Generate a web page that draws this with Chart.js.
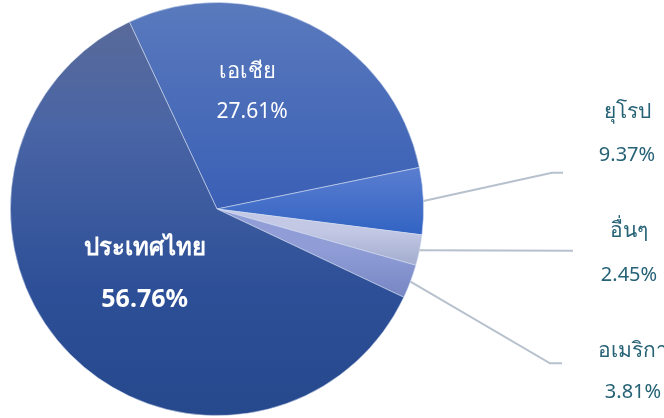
<!DOCTYPE html>
<html>
<head>
<meta charset="utf-8">
<script src="https://cdn.jsdelivr.net/npm/chart.js@4.4.0/dist/chart.umd.min.js"></script>
<style>
html,body{margin:0;padding:0;background:#fff;}
#wrap{width:664px;height:418px;position:relative;}
</style>
</head>
<body>
<div id="wrap"><canvas id="c" width="664" height="418"></canvas></div>
<script>
// Categories in drawing order (clockwise from the top boundary)
const categories = ['เอเชีย', 'ยุโรป', 'อื่นๆ', 'อเมริกา', 'ประเทศไทย'];
// Slice sizes as drawn in the picture (share of the circle, %)
const sliceValues = [28.75, 5.22, 2.39, 2.64, 61.0];
// Percentage labels as printed on the chart
const percentLabels = ['27.61%', '9.37%', '2.45%', '3.81%', '56.76%'];

const gradientStops = [
  [[0, '#5a7abd'], [0.5, '#3a5fb5'], [1, '#2d55ad']],
  [[0, '#6a8ad8'], [0.4, '#5a7ed0'], [0.57, '#3062c2'], [1, '#3062c2']],
  [[0, '#d0d5ec'], [0.55, '#c3c9e5'], [0.62, '#a9b1d3'], [1, '#a9b1d3']],
  [[0, '#9aa6dc'], [0.6, '#8f9cd6'], [0.72, '#7585c3'], [1, '#7585c3']],
  [[0, '#5b6b97'], [0.3, '#4a65a5'], [0.7, '#2d4f97'], [1, '#26488c']]
];

const FONT = '"Noto Sans", "Liberation Sans", sans-serif';
const TEAL = '#266276';

function makeBg(ctx) {
  const chart = ctx.chart;
  const area = chart.chartArea;
  if (!area) return '#3a5fb3';
  const g = chart.ctx.createLinearGradient(0, area.top, 0, area.bottom);
  gradientStops[ctx.dataIndex].forEach(s => g.addColorStop(s[0], s[1]));
  return g;
}

const labelPlugin = {
  id: 'labels',
  afterDatasetsDraw(chart) {
    const ctx = chart.ctx;
    const meta = chart.getDatasetMeta(0);
    const a0 = meta.data[0];
    const cx = a0.x, cy = a0.y, r = a0.outerRadius;
    ctx.save();
    ctx.textAlign = 'center';
    ctx.textBaseline = 'middle';

    // inside labels
    ctx.fillStyle = '#ffffff';
    ctx.font = '22px ' + FONT;
    ctx.fillText(categories[0], cx + 0.15 * r, cy - 0.665 * r);
    ctx.font = '21px ' + FONT;
    ctx.fillText(percentLabels[0], cx + 0.17 * r, cy - 0.47 * r);

    ctx.font = 'bold 24px ' + FONT;
    ctx.fillText(categories[4], cx - 0.35 * r, cy + 0.19 * r);
    ctx.font = 'bold 25px ' + FONT;
    ctx.fillText(percentLabels[4], cx - 0.35 * r, cy + 0.44 * r);

    // leader lines for outside labels
    const leaders = [
      {i: 1, pts: [[552, 172.7], [563, 172.7]], tx: 627, ty1: 112, ty2: 155},
      {i: 2, pts: [[573, 250.7]], tx: 629, ty1: 231, ty2: 275},
      {i: 3, pts: [[550, 363.3], [562, 363.3]], tx: 633, ty1: 351, ty2: 392}
    ];
    ctx.strokeStyle = '#b7c1cd';
    ctx.lineWidth = 2;
    leaders.forEach(L => {
      const arc = meta.data[L.i];
      const mid = (arc.startAngle + arc.endAngle) / 2;
      const sx = cx + Math.cos(mid) * arc.outerRadius;
      const sy = cy + Math.sin(mid) * arc.outerRadius;
      ctx.beginPath();
      ctx.moveTo(sx, sy);
      L.pts.forEach(p => ctx.lineTo(p[0], p[1]));
      ctx.stroke();
      ctx.fillStyle = TEAL;
      ctx.font = '21px ' + FONT;
      ctx.fillText(categories[L.i], L.tx, L.ty1);
      ctx.font = '20px ' + FONT;
      ctx.fillText(percentLabels[L.i], L.tx, L.ty2);
    });
    ctx.restore();
  }
};

new Chart(document.getElementById('c'), {
  type: 'pie',
  data: {
    labels: categories,
    datasets: [{
      data: sliceValues,
      backgroundColor: makeBg,
      borderColor: 'rgba(210,220,240,0.7)',
      borderWidth: 0.8
    }]
  },
  options: {
    responsive: false,
    animation: false,
    rotation: -25.1,
    layout: {padding: {left: 10, top: 2, right: 240, bottom: 2}},
    plugins: {legend: {display: false}, tooltip: {enabled: false}}
  },
  plugins: [labelPlugin]
});
</script>
</body>
</html>
